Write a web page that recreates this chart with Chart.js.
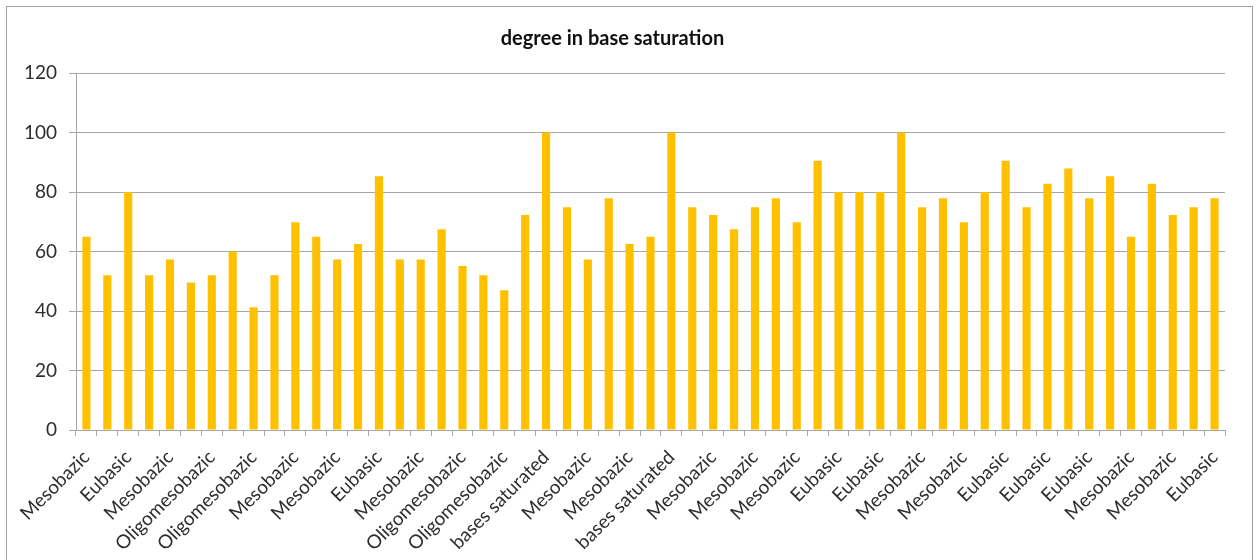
<!DOCTYPE html>
<html>
<head>
<meta charset="utf-8">
<script src="https://cdn.jsdelivr.net/npm/chart.js@4.4.1/dist/chart.umd.min.js"></script>
<style>
  html, body { margin: 0; padding: 0; background: #fff; }
  #wrap { position: relative; width: 1260px; height: 560px; overflow: hidden; }
  #frame {
    position: absolute; left: 6px; top: 6px; width: 1247px; height: 600px;
    border: 1px solid #a0a0a0; box-sizing: border-box; pointer-events: none;
  }
  canvas { position: absolute; left: 0; top: 0; }
</style>
</head>
<body>
<div id="wrap">
  <canvas id="chart" width="1260" height="560"></canvas>
  <div id="frame"></div>
</div>
<script>
// Soil classes by degree of base saturation, one per sample
const categories = [
  "Mesobazic", "Oligomesobazic", "Eubasic", "Oligomesobazic", "Mesobazic",
  "Oligomesobazic", "Oligomesobazic", "Mesobazic", "Oligomesobazic", "Oligomesobazic",
  "Mesobazic", "Mesobazic", "Mesobazic", "Mesobazic", "Eubasic",
  "Mesobazic", "Mesobazic", "Mesobazic", "Oligomesobazic", "Oligomesobazic",
  "Oligomesobazic", "Mesobazic", "bases saturated", "Mesobazic", "Mesobazic",
  "Mesobazic", "Mesobazic", "Mesobazic", "bases saturated", "Mesobazic",
  "Mesobazic", "Mesobazic", "Mesobazic", "Mesobazic", "Mesobazic",
  "Eubasic", "Eubasic", "Eubasic", "Eubasic", "bases saturated",
  "Mesobazic", "Mesobazic", "Mesobazic", "Eubasic", "Eubasic",
  "Mesobazic", "Eubasic", "Eubasic", "Eubasic", "Eubasic",
  "Mesobazic", "Eubasic", "Mesobazic", "Mesobazic", "Eubasic"
];

// Degree of base saturation (%)
const saturation = [
  65, 52, 80, 52, 57.3,
  49.6, 52, 60, 41.3, 52,
  69.8, 65, 57.3, 62.5, 85.3,
  57.3, 57.3, 67.5, 55.1, 52,
  47, 72.3, 100, 74.9, 57.3,
  77.9, 62.5, 65, 100, 74.9,
  72.3, 67.5, 74.9, 77.9, 69.8,
  90.5, 80, 80, 80, 100,
  74.9, 77.9, 69.8, 80, 90.5,
  74.9, 82.8, 87.9, 77.9, 85.3,
  65, 82.8, 72.3, 74.9, 77.9
];

const yTicks = [0, 20, 40, 60, 80, 100, 120];
const chartTitle = "degree in base saturation";

const FONT = "Lato, 'Open Sans', 'Liberation Sans', sans-serif";
const GRID = "#a6a6a6";
const TEXT = "#2e2e2e";

new Chart(document.getElementById("chart"), {
  type: "bar",
  data: {
    labels: categories,
    datasets: [{
      label: chartTitle,
      data: saturation,
      backgroundColor: "#ffc000",
      borderWidth: 0,
      categoryPercentage: 1.0,
      barPercentage: 0.39
    }]
  },
  options: {
    responsive: false,
    animation: false,
    layout: { padding: { left: 0, right: 35, top: 0, bottom: 0 } },
    plugins: {
      legend: { display: false },
      tooltip: { enabled: false },
      title: {
        display: true,
        text: chartTitle,
        color: "#111",
        font: { family: FONT, size: 20, weight: "bold" },
        padding: { top: 27, bottom: 22 }
      }
    },
    scales: {
      x: {
        grid: {
          offset: true,
          drawOnChartArea: false,
          drawTicks: true,
          tickLength: 6,
          color: GRID
        },
        border: { display: true, color: GRID },
        ticks: {
          autoSkip: false,
          maxRotation: 45,
          minRotation: 45,
          padding: 10,
          color: TEXT,
          font: { family: FONT, size: 19 },
          // every second class name is printed, as the axis is crowded
          callback: function (value, index) {
            return index % 2 === 0 ? categories[index] : "";
          }
        },
        afterFit: function (scale) { scale.height = 130; }
      },
      y: {
        min: 0,
        max: 120,
        afterBuildTicks: function (scale) {
          scale.ticks = yTicks.map(v => ({ value: v }));
        },
        grid: {
          color: GRID,
          drawTicks: true,
          tickLength: 7
        },
        border: { display: true, color: GRID },
        ticks: {
          padding: 12,
          color: TEXT,
          font: { family: FONT, size: 19 }
        },
        afterFit: function (scale) { scale.width = 76; }
      }
    }
  }
});
</script>
</body>
</html>
